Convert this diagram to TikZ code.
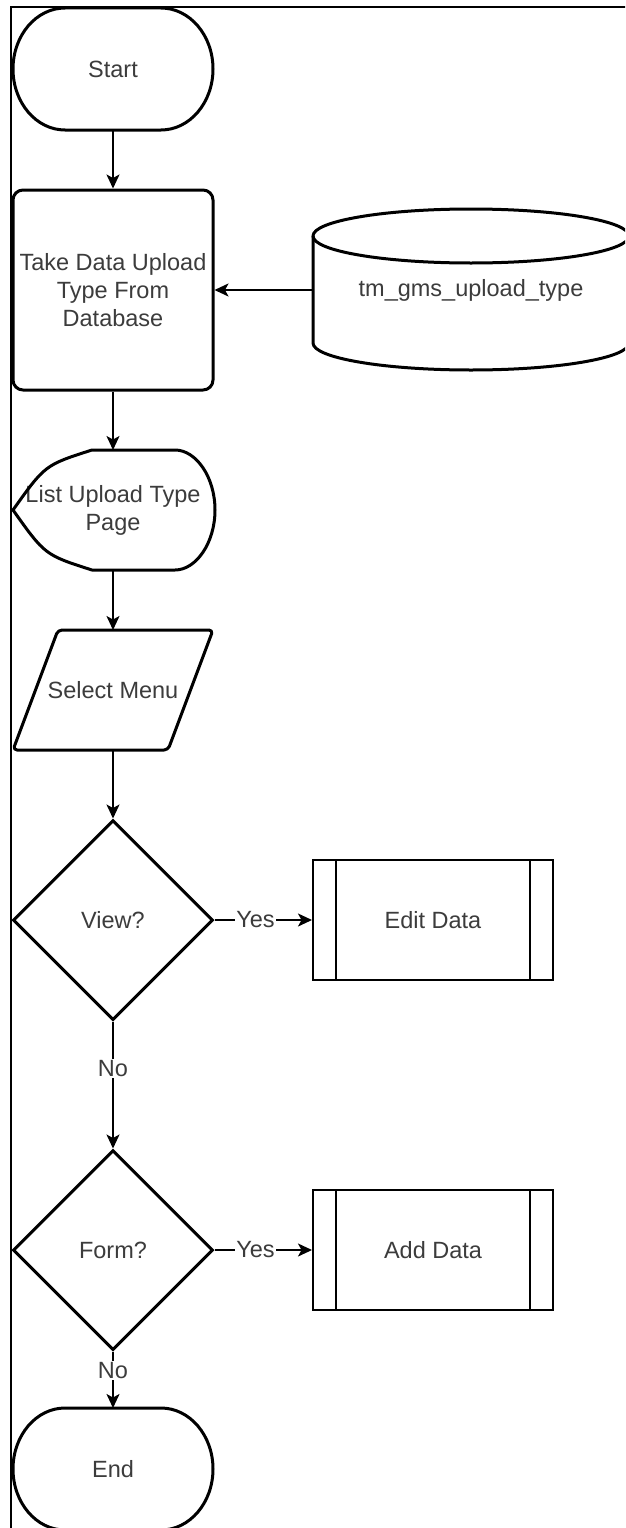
\documentclass[tikz,border=0pt]{standalone}
\usepackage{fontspec}
\setmainfont{Liberation Sans}
\usetikzlibrary{shapes.geometric,arrows.meta,calc}
\definecolor{txt}{RGB}{60,60,60}
\begin{document}
\begin{tikzpicture}[x=1pt,y=-1pt,
  every node/.style={font=\fontsize{23.5}{28}\selectfont, text=txt},
  anchorbox/.style={rectangle, inner sep=0pt, outer sep=0pt, align=center},
  shapeline/.style={line width=3pt, draw=black, line join=round},
  thinbox/.style={rectangle, draw=black, line width=2pt, inner sep=0pt, minimum width=240pt, minimum height=120pt},
  decision/.style={diamond, draw=black, line width=3pt, inner sep=0pt, minimum width=200pt, minimum height=200pt},
  conn/.style={line width=1.8pt, draw=black, -{Stealth[length=14pt,width=13pt,inset=3.5pt]}},
  lbl/.style={fill=white, inner sep=1.5pt}]
\useasboundingbox (0,0) rectangle (625,1528);
\clip (0,0) rectangle (625,1528);
\fill[white] (0,0) rectangle (625,1528);
% frame
\draw[line width=2.5pt] (11,1540) -- (11,7) -- (640,7);

% Start terminal
\node[anchorbox, minimum width=200pt, minimum height=122pt] (start) at (113,69) {Start};
\draw[shapeline] (65,8) -- (161,8) .. controls (189.7,8) and (213,35.3) .. (213,69)
  .. controls (213,102.7) and (189.7,130) .. (161,130) -- (65,130)
  .. controls (36.3,130) and (13,102.7) .. (13,69)
  .. controls (13,35.3) and (36.3,8) .. (65,8) -- cycle;

% Take data process
\node[rectangle, draw=black, line width=3pt, rounded corners=10pt, inner sep=0pt,
  minimum width=200pt, minimum height=200pt, align=center] (take) at (113,290)
  {Take Data Upload\\Type From\\Database};

% Database cylinder
\node[anchorbox, minimum width=316pt, minimum height=161pt] (cyl) at (471,290) {tm\_gms\_upload\_type};
\draw[shapeline] (313,236) .. controls (313,221) and (384,209) .. (471,209)
  .. controls (558,209) and (629,221) .. (629,236)
  .. controls (629,251) and (558,263) .. (471,263)
  .. controls (384,263) and (313,251) .. (313,236) -- cycle;
\draw[shapeline] (313,236) -- (313,343)
  .. controls (313,358) and (384,370) .. (471,370)
  .. controls (558,370) and (629,358) .. (629,343) -- (629,236);

% Display
\node[anchorbox, minimum width=200pt, minimum height=120pt] (disp) at (113,510) {List Upload Type\\Page};
\draw[shapeline] (13,510) .. controls (45,465) .. (92,450) -- (175,450)
  .. controls (196,450) and (215,477) .. (215,510)
  .. controls (215,543) and (196,570) .. (175,570) -- (92,570)
  .. controls (45,555) .. (13,510) -- cycle;

% Select menu (input)
\node[anchorbox, minimum width=200pt, minimum height=120pt] (sel) at (113,690) {Select Menu};
\draw[shapeline, rounded corners=4pt] (58,630) -- (213,630) -- (168,750) -- (13,750) -- cycle;

% Decisions
\node[decision] (view) at (113,920) {View?};
\node[decision] (form) at (113,1250) {Form?};

% Subprocesses
\node[thinbox] (edit) at (433,920) {Edit Data};
\draw[line width=2pt] ([xshift=24pt]edit.north west) -- ([xshift=24pt]edit.south west);
\draw[line width=2pt] ([xshift=-24pt]edit.north east) -- ([xshift=-24pt]edit.south east);
\node[thinbox] (add) at (433,1250) {Add Data};
\draw[line width=2pt] ([xshift=24pt]add.north west) -- ([xshift=24pt]add.south west);
\draw[line width=2pt] ([xshift=-24pt]add.north east) -- ([xshift=-24pt]add.south east);

% End terminal
\node[anchorbox, minimum width=200pt, minimum height=122pt] (end) at (113,1469) {End};
\draw[shapeline] (65,1408) -- (161,1408) .. controls (189.7,1408) and (213,1435.3) .. (213,1469)
  .. controls (213,1502.7) and (189.7,1530) .. (161,1530) -- (65,1530)
  .. controls (36.3,1530) and (13,1502.7) .. (13,1469)
  .. controls (13,1435.3) and (36.3,1408) .. (65,1408) -- cycle;

% Connectors
\draw[conn] (start.south) -- (take.north);
\draw[conn] (cyl.west) -- (take.east);
\draw[conn] (take.south) -- (disp.north);
\draw[conn] (disp.south) -- (sel.north);
\draw[conn] (sel.south) -- (view.north);
\draw[conn] (view.east) -- node[lbl, pos=0.42] {Yes} (edit.west);
\draw[conn] (view.south) -- node[lbl, pos=0.37] {No} (form.north);
\draw[conn] (form.east) -- node[lbl, pos=0.42] {Yes} (add.west);
\draw[conn] (form.south) -- node[lbl, pos=0.34] {No} (end.north);
\end{tikzpicture}
\end{document}
